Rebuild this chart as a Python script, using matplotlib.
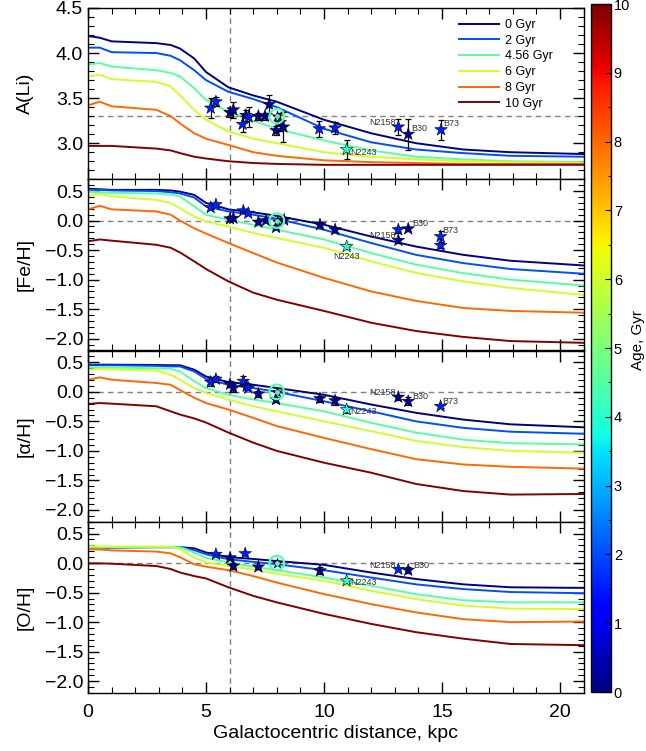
import numpy as np
import matplotlib
matplotlib.use("Agg")
import matplotlib.pyplot as plt
from matplotlib.ticker import MultipleLocator

plt.rcParams['font.family'] = ['Liberation Sans', 'DejaVu Sans']
plt.rcParams['axes.linewidth'] = 1.0

# model ages (Gyr) and galactocentric grid of the model curves
ages = [0, 2, 4.56, 6, 8, 10]
age_labels = ["0 Gyr", "2 Gyr", "4.56 Gyr", "6 Gyr", "8 Gyr", "10 Gyr"]
r_grid = [0, 0.5, 1.0, 2.9, 3.5, 3.9, 4.5, 5.0, 5.95, 7.0, 8.0, 10.0, 12.0, 13.9, 15.9, 17.9, 21.0]

li_models = [
    [4.19, 4.17, 4.13, 4.11, 4.09, 4.05, 3.94, 3.79, 3.62, 3.53, 3.46, 3.26, 3.11, 3.00, 2.93, 2.90, 2.88],
    [4.06, 4.06, 4.01, 4.00, 3.97, 3.92, 3.81, 3.70, 3.57, 3.49, 3.40, 3.16, 3.01, 2.93, 2.89, 2.86, 2.85],
    [3.87, 3.89, 3.85, 3.81, 3.78, 3.74, 3.61, 3.48, 3.35, 3.25, 3.16, 3.03, 2.92, 2.85, 2.82, 2.80, 2.79],
    [3.74, 3.76, 3.71, 3.68, 3.63, 3.53, 3.37, 3.26, 3.13, 3.05, 3.00, 2.90, 2.85, 2.82, 2.80, 2.79, 2.78],
    [3.42, 3.46, 3.41, 3.37, 3.30, 3.22, 3.11, 3.05, 2.98, 2.90, 2.86, 2.81, 2.79, 2.78, 2.77, 2.77, 2.77],
    [2.97, 2.97, 2.97, 2.94, 2.92, 2.89, 2.85, 2.83, 2.80, 2.78, 2.77, 2.76, 2.76, 2.76, 2.76, 2.76, 2.76],
]
fe_models = [
    [0.54, 0.53, 0.52, 0.52, 0.51, 0.49, 0.435, 0.30, 0.19, 0.14, 0.08, -0.07, -0.27, -0.44, -0.58, -0.68, -0.76],
    [0.52, 0.52, 0.51, 0.50, 0.48, 0.46, 0.39, 0.24, 0.155, 0.10, 0.03, -0.155, -0.38, -0.58, -0.72, -0.82, -0.90],
    [0.49, 0.48, 0.47, 0.46, 0.44, 0.41, 0.24, 0.10, 0.01, -0.07, -0.155, -0.32, -0.55, -0.745, -0.89, -1.00, -1.10],
    [0.42, 0.45, 0.41, 0.35, 0.295, 0.21, 0.07, -0.015, -0.10, -0.21, -0.295, -0.46, -0.69, -0.885, -1.03, -1.14, -1.26],
    [0.19, 0.25, 0.19, 0.155, 0.10, 0.0, -0.13, -0.22, -0.38, -0.55, -0.71, -0.97, -1.20, -1.36, -1.48, -1.53, -1.56],
    [-0.35, -0.32, -0.34, -0.41, -0.46, -0.54, -0.69, -0.82, -1.03, -1.22, -1.34, -1.53, -1.73, -1.87, -1.97, -2.04, -2.07],
]
alpha_models = [
    [0.46, 0.46, 0.46, 0.455, 0.45, 0.45, 0.375, 0.26, 0.165, 0.12, 0.065, -0.05, -0.215, -0.355, -0.47, -0.55, -0.60],
    [0.45, 0.45, 0.45, 0.44, 0.43, 0.43, 0.345, 0.22, 0.12, 0.065, 0.0, -0.16, -0.33, -0.50, -0.61, -0.675, -0.71],
    [0.415, 0.415, 0.41, 0.40, 0.39, 0.345, 0.18, 0.065, -0.05, -0.13, -0.19, -0.33, -0.525, -0.69, -0.81, -0.87, -0.89],
    [0.375, 0.39, 0.38, 0.36, 0.29, 0.205, 0.065, -0.02, -0.13, -0.245, -0.33, -0.50, -0.665, -0.83, -0.935, -1.00, -1.03],
    [0.205, 0.245, 0.205, 0.15, 0.12, 0.03, -0.10, -0.19, -0.30, -0.44, -0.58, -0.78, -0.97, -1.14, -1.23, -1.27, -1.30],
    [-0.205, -0.19, -0.20, -0.245, -0.33, -0.385, -0.45, -0.52, -0.69, -0.86, -1.00, -1.20, -1.37, -1.56, -1.68, -1.74, -1.73],
]
o_models = [
    [0.25, 0.26, 0.27, 0.27, 0.27, 0.27, 0.25, 0.18, 0.10, 0.07, 0.035, -0.03, -0.16, -0.27, -0.36, -0.41, -0.42],
    [0.235, 0.25, 0.26, 0.27, 0.27, 0.27, 0.22, 0.15, 0.065, 0.02, -0.02, -0.12, -0.245, -0.36, -0.44, -0.49, -0.51],
    [0.26, 0.26, 0.27, 0.27, 0.27, 0.27, 0.18, 0.09, 0.01, -0.06, -0.12, -0.245, -0.385, -0.525, -0.63, -0.665, -0.665],
    [0.29, 0.28, 0.28, 0.28, 0.28, 0.235, 0.09, 0.01, -0.05, -0.11, -0.18, -0.30, -0.47, -0.61, -0.72, -0.77, -0.78],
    [0.235, 0.23, 0.215, 0.195, 0.165, 0.10, -0.02, -0.06, -0.12, -0.22, -0.33, -0.525, -0.695, -0.835, -0.95, -1.00, -0.99],
    [-0.005, -0.005, -0.01, -0.05, -0.10, -0.16, -0.22, -0.26, -0.41, -0.555, -0.665, -0.86, -1.03, -1.17, -1.28, -1.37, -1.39],
]

# observed stars: radius, value, error, age
li_r = [5.20, 5.42, 6.02, 6.16, 6.55, 6.69, 6.81, 7.22, 7.50, 7.68, 7.97, 8.14, 8.28, 9.80, 10.47, 10.96, 13.15, 13.57, 14.96]
li_v = [3.39, 3.46, 3.34, 3.37, 3.21, 3.31, 3.29, 3.30, 3.30, 3.43, 3.14, 3.23, 3.18, 3.16, 3.17, 2.93, 3.18, 3.10, 3.15]
li_e = [0.11, 0.05, 0.05, 0.09, 0.09, 0.06, 0.11, 0.04, 0.04, 0.10, 0.05, 0.10, 0.17, 0.09, 0.07, 0.10, 0.09, 0.17, 0.11]
li_age = [1.6, 1.6, 0.3, 0.3, 1.6, 0.3, 1.6, 0.3, 0.3, 0.3, 0.3, 0.3, 0.3, 1.6, 1.6, 4.0, 1.6, 0.3, 1.6]

fe_r = [5.20, 5.42, 6.02, 6.16, 6.58, 6.79, 7.22, 7.54, 7.97, 8.31, 9.83, 10.47, 10.96, 13.15, 13.15, 13.57, 14.94, 14.94]
fe_v = [0.22, 0.27, 0.03, 0.04, 0.165, 0.125, -0.025, 0.0, -0.115, 0.01, -0.07, -0.155, -0.44, -0.155, -0.335, -0.14, -0.27, -0.42]
fe_e = [0.03, 0.03, 0.03, 0.03, 0.03, 0.03, 0.03, 0.03, 0.03, 0.03, 0.04, 0.03, 0.04, 0.05, 0.04, 0.03, 0.10, 0.05]
fe_age = [1.6, 1.6, 0.3, 0.3, 1.6, 1.6, 0.3, 0.3, 0.3, 0.3, 0.3, 0.3, 4.0, 1.6, 0.3, 0.3, 1.6, 1.6]

al_r = [5.20, 5.42, 6.02, 6.16, 6.58, 6.72, 6.79, 7.22, 7.97, 9.83, 10.47, 10.96, 13.15, 13.57, 14.94]
al_v = [0.165, 0.215, 0.13, 0.065, 0.18, 0.095, 0.065, -0.035, -0.13, -0.115, -0.15, -0.30, -0.09, -0.16, -0.245]
al_e = [0.07, 0.05, 0.05, 0.07, 0.08, 0.05, 0.04, 0.05, 0.04, 0.05, 0.07, 0.05, 0.04, 0.07, 0.03]
al_age = [1.6, 1.6, 0.3, 0.3, 1.6, 0.3, 1.6, 0.3, 0.3, 0.3, 0.3, 4.0, 0.3, 0.3, 1.6]

o_r = [5.42, 6.02, 6.16, 6.66, 7.22, 9.83, 10.96, 13.15, 13.57]
o_v = [0.15, 0.09, -0.05, 0.16, -0.065, -0.13, -0.30, -0.105, -0.12]
o_e = [0.02, 0.02, 0.05, 0.02, 0.03, 0.06, 0.04, 0.03, 0.05]
o_age = [1.6, 0.3, 0.3, 1.6, 0.3, 0.3, 4.0, 1.6, 0.3]

# named clusters: (name, radius, value, offset in pixels, alignment)
li_names = [("N2158", 13.15, 3.18, (-3, 4), "right"), ("B30", 13.57, 3.10, (3, 6), "left"),
            ("B73", 14.96, 3.15, (2, 6), "left"), ("N2243", 10.96, 2.93, (4, -3), "left")]
fe_names = [("N2158", 13.15, -0.155, (-3, -6), "right"), ("B30", 13.57, -0.14, (4, 5), "left"),
            ("B73", 14.94, -0.27, (2, 6), "left"), ("N2243", 10.96, -0.44, (0, -10), "center")]
al_names = [("N2158", 13.15, -0.09, (-3, 5), "right"), ("B30", 13.57, -0.16, (4, 5), "left"),
            ("B73", 14.94, -0.245, (2, 5), "left"), ("N2243", 10.96, -0.30, (4, -2), "left")]
o_names = [("N2158", 13.15, -0.105, (-3, 4), "right"), ("B30", 13.57, -0.12, (5, 5), "left"),
           ("N2243", 10.96, -0.30, (4, -2), "left")]

sun_r = 8.0
sun_vals = [3.30, 0.0, 0.0, 0.0]
ref_lines = [3.3, 0.0, 0.0, 0.0]
r_break = 6.0

cmap = plt.get_cmap('jet')
norm = plt.Normalize(0, 10)

fig = plt.figure(figsize=(6.46, 7.51), dpi=100)
left, right, top, bottom = 88 / 646, 583.6 / 646, 1 - 8 / 751, 1 - 693 / 751
h = (top - bottom) / 4
axes = [fig.add_axes([left, top - (i + 1) * h, right - left, h]) for i in range(4)]

panels = [
    ("A(Li)", li_models, li_r, li_v, li_e, li_age, li_names, (2.6, 4.5)),
    ("[Fe/H]", fe_models, fe_r, fe_v, fe_e, fe_age, fe_names, (-2.2, 0.7)),
    ("[\u03b1/H]", alpha_models, al_r, al_v, al_e, al_age, al_names, (-2.2, 0.7)),
    ("[O/H]", o_models, o_r, o_v, o_e, o_age, o_names, (-2.2, 0.7)),
]

for i, (ax, (lab, models, rr, vv, ee, aa, names, ylim)) in enumerate(zip(axes, panels)):
    for age, lbl, m in zip(ages, age_labels, models):
        ax.plot(r_grid, m, color=cmap(norm(age)), lw=1.4, label=lbl, zorder=2)
    ax.axvline(r_break, color='0.5', ls='--', lw=1.0, dashes=(4, 3), zorder=1)
    ax.axhline(ref_lines[i], color='0.5', ls='--', lw=1.0, dashes=(4, 3), zorder=1)

    ax.errorbar(rr, vv, yerr=ee, fmt='none', ecolor='black', elinewidth=0.9,
                capsize=2.5, capthick=0.9, zorder=3)
    ax.scatter(rr, vv, marker='*', s=90, c=[cmap(norm(a)) for a in aa],
               edgecolors='black', linewidths=0.4, zorder=4)

    # the Sun
    ax.scatter([sun_r], [sun_vals[i]], marker='*', s=60, color=cmap(norm(0.3)),
               edgecolors='black', linewidths=0.4, zorder=5)
    ax.scatter([sun_r], [sun_vals[i]], marker='o', s=110, facecolors='none',
               edgecolors=cmap(norm(4.56)), linewidths=1.6, zorder=6)
    ax.scatter([sun_r], [sun_vals[i]], marker='o', s=6, color=cmap(norm(4.56)), zorder=7)

    for name, r, v, off, ha in names:
        ax.annotate(name, (r, v), xytext=off, textcoords='offset pixels', ha=ha,
                    va='center', fontsize=6.5, color='0.2', zorder=8)

    ax.set_xlim(0, 21)
    ax.set_ylim(*ylim)
    ax.set_ylabel(lab, fontsize=14)
    ax.yaxis.set_label_coords(-0.11, 0.5)
    ax.xaxis.set_major_locator(MultipleLocator(5))
    ax.xaxis.set_minor_locator(MultipleLocator(1))
    ax.yaxis.set_major_locator(MultipleLocator(0.5))
    ax.yaxis.set_minor_locator(MultipleLocator(0.1))
    ax.tick_params(which='both', direction='in', top=True, right=True, labelsize=14)
    ax.tick_params(which='major', length=8, width=1.0)
    ax.tick_params(which='minor', length=4, width=0.8)
    ax.tick_params(axis='x', pad=8)
    if i < 3:
        ax.tick_params(labelbottom=False)

axes[0].legend(loc='upper right', bbox_to_anchor=(0.948, 0.965), frameon=False,
               fontsize=9, handlelength=3.2, handletextpad=0.5, labelspacing=0.3,
               borderaxespad=0.0)
axes[3].set_xlabel("Galactocentric distance, kpc", fontsize=14, labelpad=3)

# age colour bar
cax = fig.add_axes([591 / 646, 1 - 692 / 751, 20 / 646, 688 / 751])
sm = plt.cm.ScalarMappable(cmap=cmap, norm=norm)
cb = fig.colorbar(sm, cax=cax, ticks=range(0, 11))
cb.outline.set_linewidth(1.0)
cax.yaxis.set_minor_locator(MultipleLocator(0.5))
cax.tick_params(which='both', direction='in', labelsize=10.5, pad=2)
cax.tick_params(which='major', length=4)
cax.tick_params(which='minor', length=2)
fig.text(638 / 646, 1 - 340 / 751, "Age, Gyr", rotation=90, fontsize=11, ha='center', va='center')

fig.savefig("out.png", dpi=100)
